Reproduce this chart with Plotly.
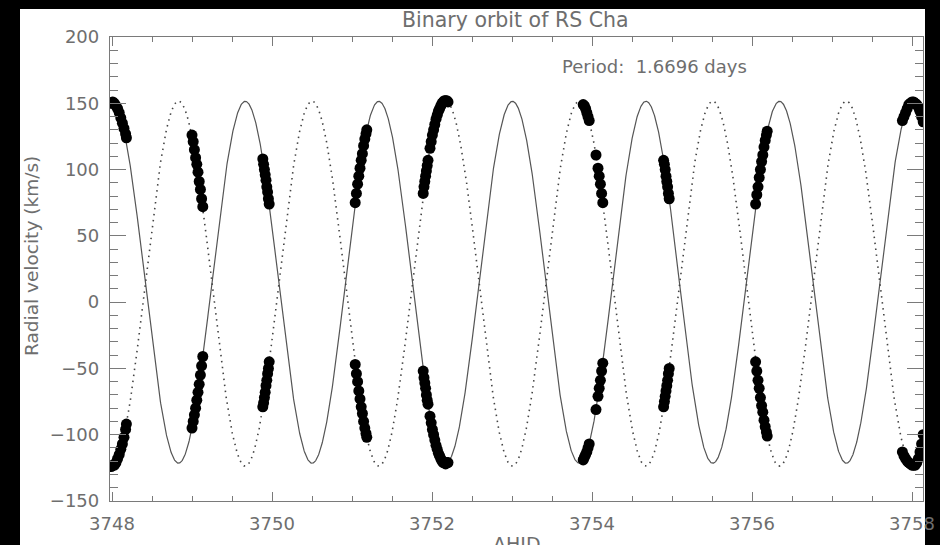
import numpy as np
import plotly.graph_objects as go

# ---- orbital solution ----
PERIOD = 1.6696
T_PEAK_A = 3749.666      # time of maximum velocity of star A (solid curve)
GAMMA_A, K_A = 15.0, 136.5
GAMMA_B, K_B = 14.0, 137.7

# ---- observations ----
hjd = [3747.99, 3748.01, 3748.03, 3748.05, 3748.07, 3748.09, 3748.11, 3748.13, 3748.15, 3748.17, 3748.18,
       3749.00, 3749.015, 3749.03, 3749.045, 3749.06, 3749.075, 3749.09, 3749.105, 3749.12, 3749.135,
       3749.885, 3749.895, 3749.905, 3749.915, 3749.925, 3749.935, 3749.945, 3749.955, 3749.965,
       3751.04, 3751.055, 3751.07, 3751.085, 3751.10, 3751.115, 3751.13, 3751.145, 3751.16, 3751.175, 3751.185,
       3751.89, 3751.90, 3751.91, 3751.92, 3751.93, 3751.94, 3751.95, 3751.975, 3751.99, 3752.005, 3752.02,
       3752.035, 3752.05, 3752.065, 3752.08, 3752.095, 3752.11, 3752.125, 3752.14, 3752.155, 3752.17, 3752.185, 3752.20,
       3753.89, 3753.905, 3753.92, 3753.935, 3753.95, 3753.965, 3754.05, 3754.075, 3754.09, 3754.105, 3754.12, 3754.135,
       3754.895, 3754.905, 3754.915, 3754.925, 3754.935, 3754.945, 3754.955, 3754.965,
       3756.045, 3756.06, 3756.075, 3756.09, 3756.105, 3756.12, 3756.135, 3756.15, 3756.165, 3756.18, 3756.19,
       3757.88, 3757.90, 3757.92, 3757.94, 3757.96, 3757.98, 3758.00, 3758.02, 3758.04, 3758.06, 3758.08, 3758.10, 3758.12, 3758.14]

rv_a = [150, 151, 150, 148, 146, 143, 139, 135, 131, 127, 124,
        -95, -90, -85, -80, -74, -68, -62, -55, -48, -41,
        108, 104, 100, 96, 92, 87, 83, 78, 74,
        75, 82, 89, 95, 101, 107, 112, 118, 123, 127, 130,
        -52, -57, -61, -65, -70, -74, -77, -86, -91, -96, -100,
        -104, -108, -111, -114, -116, -118, -120, -121, -121, -122, -121, -121,
        -119, -117, -115, -113, -110, -107, -81, -71, -65, -59, -52, -46,
        107, 104, 100, 95, 91, 87, 82, 78,
        74, 81, 87, 94, 100, 106, 111, 117, 122, 126, 129,
        137, 140, 143, 146, 149, 150, 151, 151, 150, 149, 147, 144, 140, 136]

rv_b = [-124, -123, -123, -121, -118, -115, -111, -107, -102, -96, -92,
        126, 121, 115, 109, 104, 98, 91, 85, 78, 72,
        -79, -76, -72, -68, -63, -59, -54, -50, -45,
        -47, -54, -60, -67, -73, -79, -84, -90, -95, -99, -102,
        82, 87, 91, 95, 99, 103, 107, 116, 121, 126, 130,
        134, 138, 141, 144, 146, 148, 150, 151, 152, 152, 152, 151,
        149, 148, 146, 143, 140, 137, 111, 101, 95, 89, 82, 75,
        -79, -75, -71, -67, -63, -59, -54, -50,
        -45, -52, -59, -65, -72, -78, -83, -89, -94, -98, -101,
        -113, -116, -118, -120, -121, -122, -123, -123, -123, -121, -118, -113, -107, -100]

X_RANGE = [3747.975, 3758.1375]
Y_RANGE = [-150, 200]

# model curves from the orbital solution
t_model = np.linspace(X_RANGE[0], X_RANGE[1], 3000)
phase = 2 * np.pi * (t_model - T_PEAK_A) / PERIOD
model_a = GAMMA_A + K_A * np.cos(phase)
model_b = GAMMA_B - K_B * np.cos(phase)

# ---- layout geometry (pixels) ----
W, H = 940, 545
L, R, T, B = 110, 17, 37, 44
pw, ph = W - L - R, H - T - B

def px_x(x):
    return (x - L) / pw

def px_y(y):
    return (H - B - y) / ph

TEXT = "#6e6e6e"
AX = "#7a7a7a"
FONT = "DejaVu Sans"

fig = go.Figure()
fig.add_trace(go.Scatter(x=t_model, y=model_a, mode="lines",
                         line=dict(color="#555555", width=1.2), hoverinfo="skip"))
fig.add_trace(go.Scatter(x=t_model, y=model_b, mode="lines",
                         line=dict(color="#444444", width=1.6, dash="1.5px,4.5px"), hoverinfo="skip"))
fig.add_trace(go.Scatter(x=hjd, y=rv_a, mode="markers",
                         marker=dict(color="black", size=11, line=dict(width=0))))
fig.add_trace(go.Scatter(x=hjd, y=rv_b, mode="markers",
                         marker=dict(color="black", size=11, line=dict(width=0))))

axis_common = dict(showgrid=False, zeroline=False, showline=True, linecolor=AX, linewidth=1.3,
                   mirror="ticks", ticks="inside", tickcolor=AX, tickwidth=1.2, automargin=False,
                   tickfont=dict(family=FONT, size=18, color=TEXT))

fig.update_xaxes(range=X_RANGE, tick0=3748, dtick=2, ticklen=9, ticklabelstandoff=6,
                 minor=dict(dtick=0.5, ticks="inside", ticklen=4.5, tickcolor=AX, tickwidth=1.1),
                 **axis_common)
fig.update_yaxes(range=Y_RANGE, tick0=0, dtick=50, ticklen=16, ticklabelstandoff=6,
                 minor=dict(dtick=10, ticks="inside", ticklen=8, tickcolor=AX, tickwidth=1.1),
                 **axis_common)

fig.add_shape(type="rect", xref="paper", yref="paper", layer="below",
              x0=px_x(20), x1=px_x(925), y0=px_y(560), y1=px_y(9),
              fillcolor="white", line=dict(width=0))

fig.add_annotation(text="Binary orbit of RS Cha", xref="paper", yref="paper",
                   x=px_x(515), y=px_y(20), xanchor="center", yanchor="middle", showarrow=False,
                   font=dict(family=FONT, size=20.5, color=TEXT))
fig.add_annotation(text="Period:  1.6696 days", xref="paper", yref="paper",
                   x=px_x(560), y=px_y(66), xanchor="left", yanchor="middle", showarrow=False,
                   font=dict(family=FONT, size=18, color=TEXT))
fig.add_annotation(text="Radial velocity (km/s)", xref="paper", yref="paper", textangle=-90,
                   x=px_x(32), y=px_y(256), xanchor="center", yanchor="middle", showarrow=False,
                   font=dict(family=FONT, size=18.5, color=TEXT))
fig.add_annotation(text="AHJD", xref="paper", yref="paper",
                   x=px_x(517), y=px_y(531), xanchor="center", yanchor="top", showarrow=False,
                   font=dict(family=FONT, size=19, color=TEXT))

fig.update_layout(width=W, height=H, margin=dict(l=L, r=R, t=T, b=B, autoexpand=False),
                  paper_bgcolor="black", plot_bgcolor="white", showlegend=False)

fig.write_html("out.html")
